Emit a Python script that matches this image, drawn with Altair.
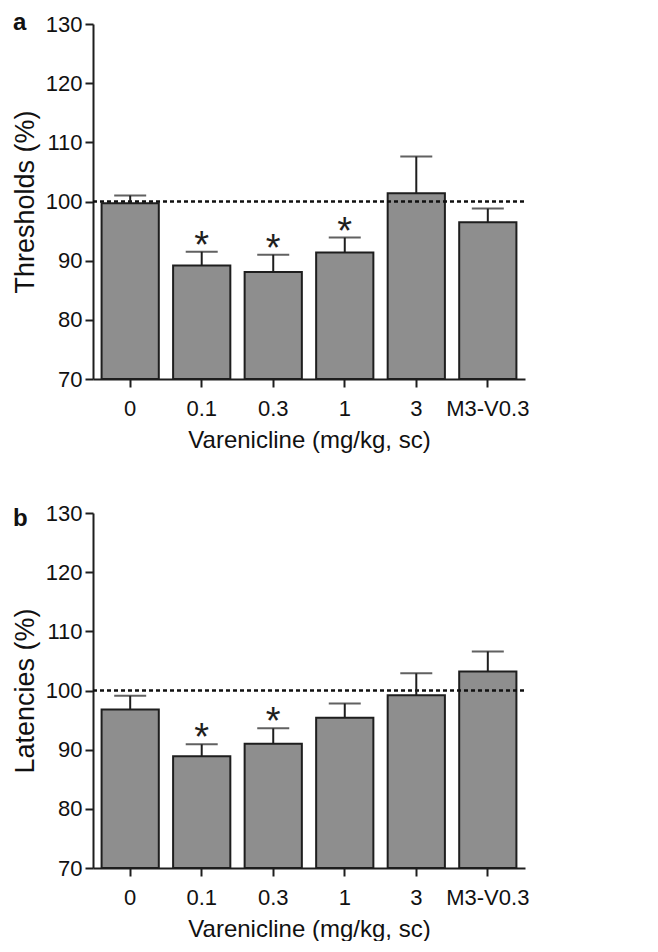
import altair as alt
import pandas as pd

doses = ["0", "0.1", "0.3", "1", "3", "M3-V0.3"]

thr_mean = [99.7, 89.2, 88.1, 91.4, 101.4, 96.5]
thr_err = [1.3, 2.3, 2.9, 2.5, 6.2, 2.3]
thr_sig = [False, True, True, True, False, False]

lat_mean = [96.8, 88.9, 91.0, 95.4, 99.2, 103.2]
lat_err = [2.3, 2.0, 2.6, 2.4, 3.7, 3.4]
lat_sig = [False, True, True, False, False, False]

y_ticks = [70, 80, 90, 100, 110, 120, 130]
reference_level = 100

W = 432
H = 355
FONT = "Liberation Sans"
BAR_FILL = "#8e8e8e"
INK = "#1e1e1e"


def panel(mean, err, sig, ytitle, letter, letter_y):
    df = pd.DataFrame({
        "dose": doses,
        "mean": mean,
        "top": [m + e for m, e in zip(mean, err)],
        "star": ["*" if s else "" for s in sig],
    })
    xenc = alt.X(
        "dose:N", sort=doses,
        scale=alt.Scale(paddingInner=0.2, paddingOuter=0.12),
        axis=alt.Axis(title="Varenicline (mg/kg, sc)", labelAngle=0,
                      labelPadding=11, titlePadding=9, titleFontSize=24),
    )
    yaxis = alt.Axis(values=y_ticks, title=ytitle, grid=False,
                     labelPadding=3, titlePadding=6, titleFontSize=27)
    yscale = alt.Scale(domain=[70, 130], nice=False, zero=False)

    base = alt.Chart(df)
    bars = base.mark_bar(fill=BAR_FILL, stroke=INK, strokeWidth=2).encode(
        x=xenc,
        y=alt.Y("mean:Q", scale=yscale, axis=yaxis, title=ytitle),
        y2=alt.datum(70),
    )
    stems = base.mark_rule(color=INK, strokeWidth=2).encode(
        x=xenc,
        y=alt.Y("mean:Q", scale=yscale, axis=yaxis, title=ytitle),
        y2="top:Q",
    )
    caps = base.mark_tick(color=INK, size=32, thickness=2).encode(
        x=xenc,
        y=alt.Y("top:Q", scale=yscale, axis=yaxis, title=ytitle),
    )
    ref = alt.Chart(pd.DataFrame({"ref": [reference_level]})).mark_rule(
        color="#111111", strokeWidth=2.4, strokeDash=[4, 3]
    ).encode(
        y=alt.Y("ref:Q", scale=yscale, axis=yaxis, title=ytitle),
        x=alt.value(0), x2=alt.value(W),
    )
    stars = base.mark_text(fontSize=38, baseline="alphabetic", dy=6,
                           color=INK, font=FONT).encode(
        x=xenc,
        y=alt.Y("top:Q", scale=yscale, axis=yaxis, title=ytitle),
        text="star:N",
    )
    lab = alt.Chart(pd.DataFrame({"l": [letter]})).mark_text(
        align="left", baseline="alphabetic", fontSize=24, fontWeight="bold",
        color="#111111", font=FONT
    ).encode(x=alt.value(-80), y=alt.value(letter_y), text="l:N")

    return alt.layer(bars, ref, stems, caps, stars, lab).properties(width=W, height=H)


chart = alt.vconcat(
    panel(thr_mean, thr_err, thr_sig, "Thresholds (%)", "a", 6),
    panel(lat_mean, lat_err, lat_sig, "Latencies (%)", "b", 13),
    spacing=50,
).properties(
    padding={"left": 3, "top": 3, "right": 5, "bottom": 0}
).configure_view(stroke=None).configure_axis(
    domainColor=INK, domainWidth=2, tickColor=INK, tickWidth=2, tickSize=8,
    labelFont=FONT, labelFontSize=22, labelColor="#111111",
    titleFont=FONT, titleFontWeight="normal", titleColor="#111111",
)

chart.save("out.html", embed_options={"renderer": "svg", "actions": False})
